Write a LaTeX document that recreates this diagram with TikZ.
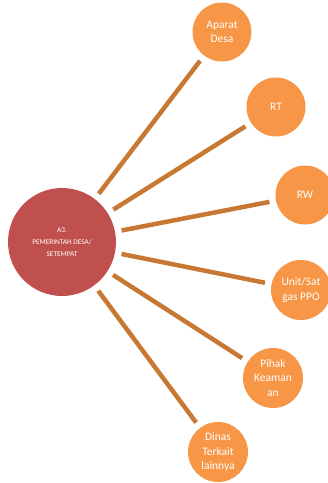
\documentclass[tikz,border=0pt]{standalone}
\usepackage{fontspec}
\setmainfont{Carlito}
\definecolor{hubred}{RGB}{192,80,77}
\definecolor{leaforange}{RGB}{247,150,70}
\definecolor{spoke}{RGB}{199,121,51}
\begin{document}
\begin{tikzpicture}[x=1pt,y=-1pt,
  hub/.style={circle,fill=hubred,minimum size=108pt,inner sep=0pt,text=white,align=center,
    font=\fontsize{7.3}{12}\selectfont},
  leaf/.style={circle,fill=leaforange,minimum size=59pt,inner sep=0pt,text=white,align=center,
    font=\fontsize{11.5}{14.5}\selectfont},
  spokeline/.style={draw=spoke,line width=4.5pt,shorten <=6.5pt,shorten >=6.5pt}]
\useasboundingbox (0,0) rectangle (328,483);
\node[hub] (c) at (62,242) {A3.\\PEMERINTAH DESA/\\SETEMPAT};
\node[leaf] (a) at (222,32) {Aparat\\Desa};
\node[leaf] (rt) at (276,107) {RT};
\node[leaf] (rw) at (305,195) {RW};
\node[leaf,minimum size=60pt] (u) at (301,290) {Unit/Sat\\gas PPO};
\node[leaf,minimum size=60pt] (p) at (273,378) {Pihak\\Keaman\\an};
\node[leaf,minimum size=60pt] (d) at (218,452) {Dinas\\Terkait\\lainnya};
\foreach \t in {a,rt,rw,u,p,d} \draw[spokeline] (c) -- (\t);
\end{tikzpicture}
\end{document}
